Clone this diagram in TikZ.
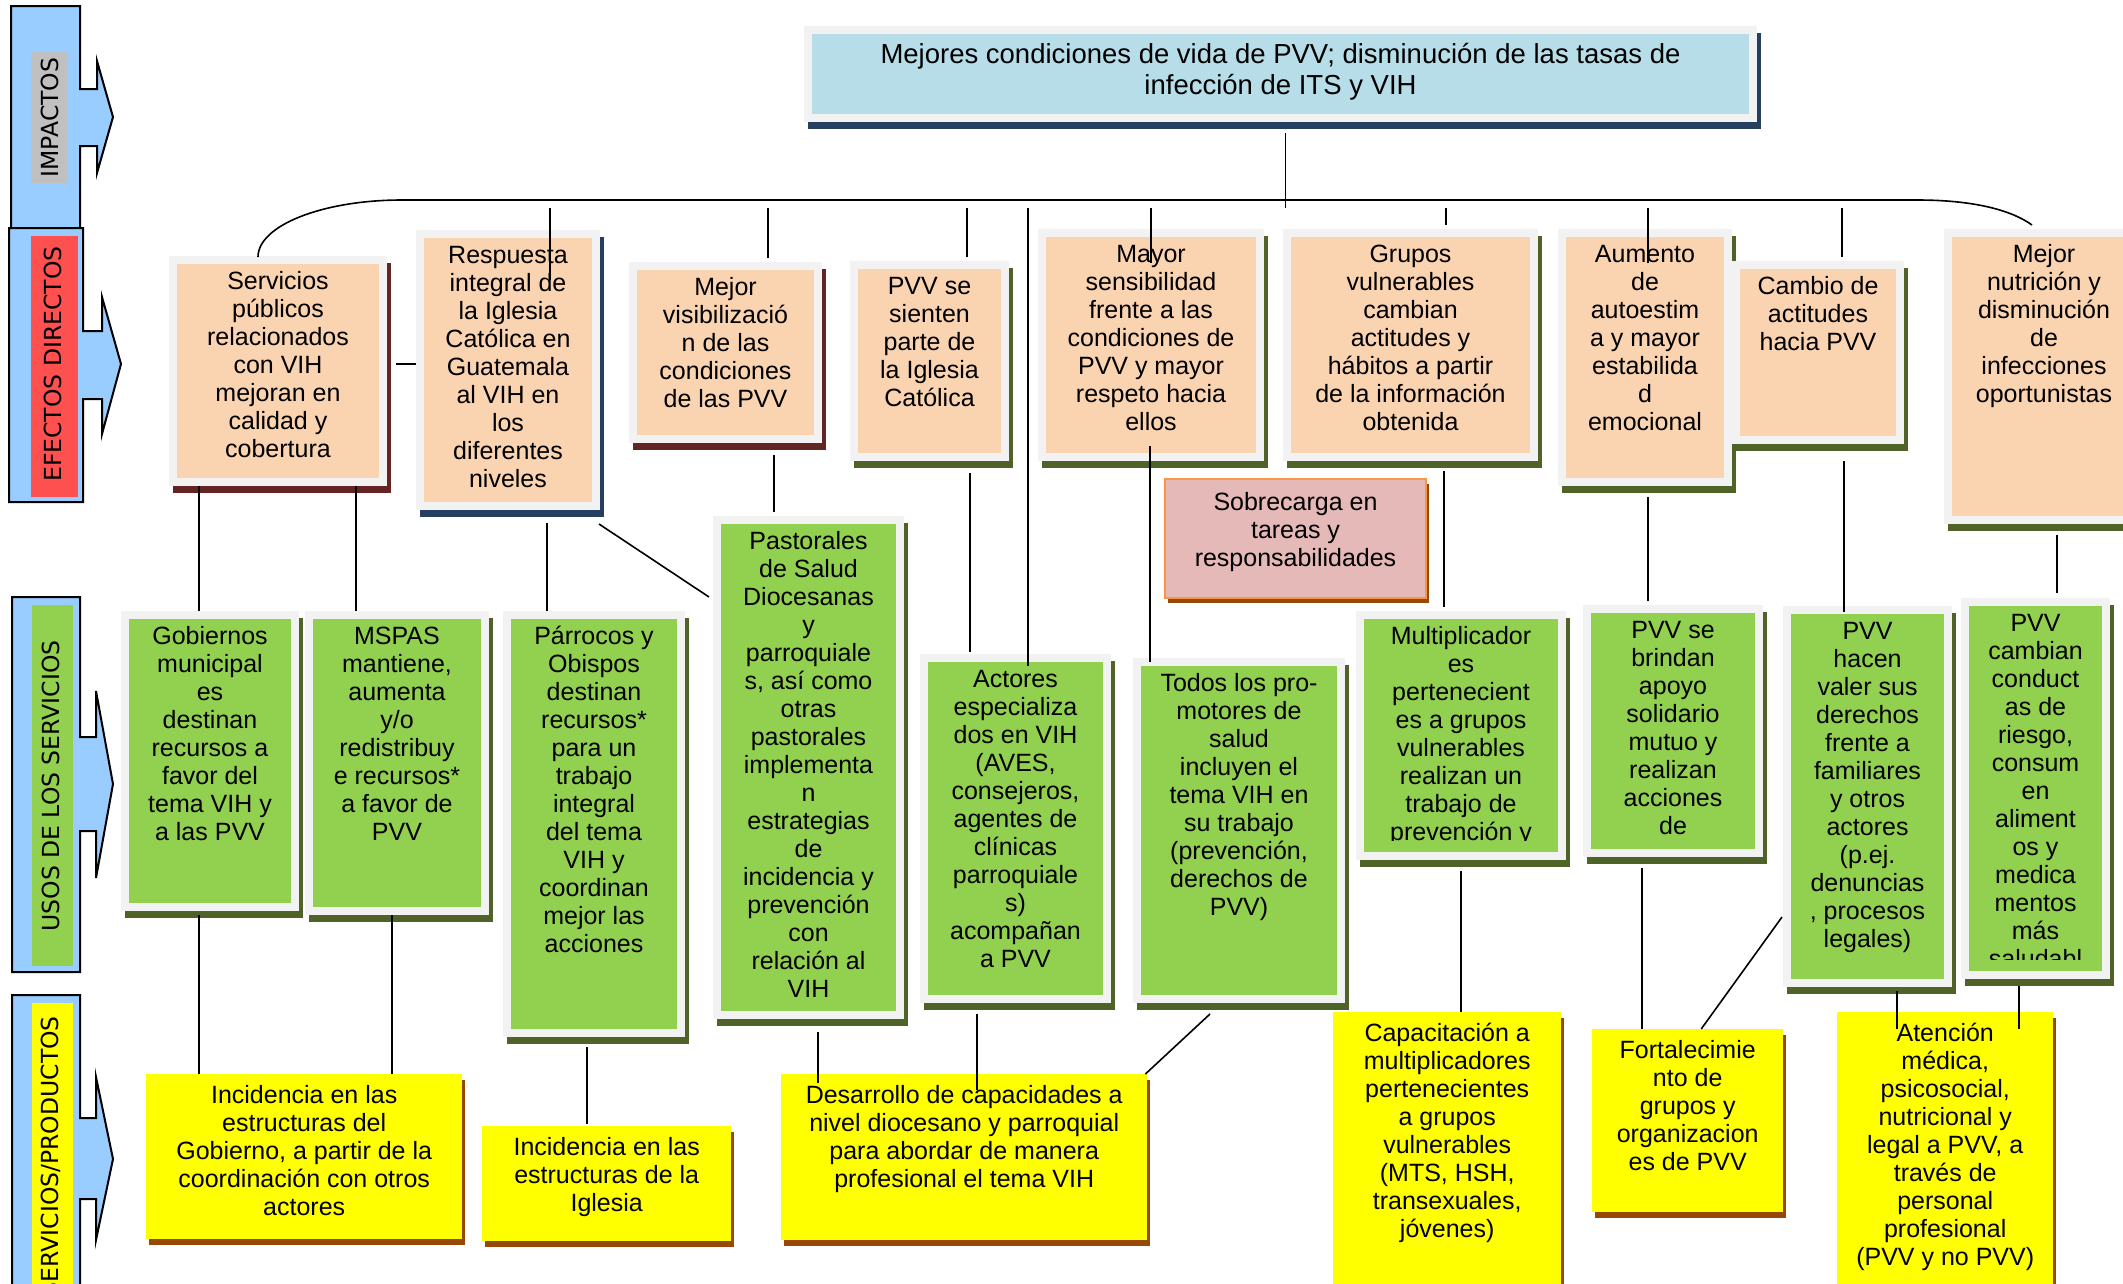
\documentclass[tikz,border=0pt]{standalone}
\usepackage{fontspec}
\setmainfont{Liberation Sans}
\newfontfamily\sidefont{DejaVu Sans}
\usetikzlibrary{calc}

\definecolor{sideblue}{HTML}{99CCFF}
\definecolor{labgrey}{HTML}{C0C0C0}
\definecolor{labred}{HTML}{FF5050}
\definecolor{labgreen}{HTML}{92D050}
\definecolor{lemon}{HTML}{FFFF00}
\definecolor{peach}{HTML}{FAD3B1}
\definecolor{leaf}{HTML}{92D050}
\definecolor{skyfill}{HTML}{B7DDE8}
\definecolor{framegrey}{HTML}{F2F2F2}
\definecolor{olive}{HTML}{4F6228}
\definecolor{wine}{HTML}{632523}
\definecolor{navy}{HTML}{243F60}
\definecolor{rust}{HTML}{984806}
\definecolor{rose}{HTML}{E5B9B7}
\definecolor{amber}{HTML}{F79646}

\tikzset{
  conn/.style={draw=black, line width=1.6pt},
  sidebar/.style={fill=sideblue, draw=black, line width=2pt},
  sidelabel/.style={rotate=90, inner sep=0pt, font=\sidefont\fontsize{23.5}{28}\selectfont},
  castshadow/.style={preaction={draw=#1, fill=#1, line width=8pt, transform canvas={xshift=4pt, yshift=-7pt}}},
  cardbox/.style={rectangle, draw=framegrey, line width=8pt, inner sep=0pt, anchor=north west, fill=#1},
  prodbox/.style={rectangle, draw=none, inner sep=0pt, anchor=north west, fill=lemon,
    preaction={fill=rust, transform canvas={xshift=3pt, yshift=-6pt}}},
  body/.style={anchor=north, align=center, inner sep=0pt, font=\fontsize{25}{28}\selectfont},
}

% framed card: name, fill, shadow colour, outer x1, y1, x2, y2
\newcommand\framecard[7]{%
  \node[cardbox=#2, castshadow=#3, minimum width={#6-#4-8}, minimum height={#7-#5-8}] (#1) at ({#4+4},{#5+4}) {};}
\newcommand\cardtext[2]{\node[body] (#1t) at ($(#1.north)+(0,13.4)$) {\strut #2};}
% plain yellow product box: name, x1, y1, x2, y2
\newcommand\prodcard[5]{%
  \node[prodbox, minimum width={#4-#2}, minimum height={#5-#3}] (#1) at (#2,#3) {};}
\newcommand\prodtext[2]{\node[body] (#1t) at ($(#1.north)+(0,9.4)$) {\strut #2};}

\begin{document}
\begin{tikzpicture}[x=1pt, y=-1pt]
\useasboundingbox (0,0) rectangle (2123,1283);
\clip (0,0) rectangle (2123,1283);
\fill[white] (0,0) rectangle (2123,1283);

% ---- level bars on the left ----
\draw[sidebar] (11,6) -- (80,6) -- (80,89) -- (97,89) -- (97,61) -- (113,117) -- (97,173) -- (97,146) -- (80,146) -- (80,228) -- (11,228) -- cycle;
\fill[labgrey] (31,52) rectangle (68,183);
\node[sidelabel] (impactos) at (49.5,117.5) {IMPACTOS};

\draw[sidebar] (9,228) -- (83,228) -- (83,331) -- (102,331) -- (102,297) -- (121,364) -- (102,434) -- (102,399) -- (83,399) -- (83,502) -- (9,502) -- cycle;
\fill[labred] (31,236) rectangle (78,497);
\node[sidelabel] (efectos) at (53,364) {EFECTOS DIRECTOS};

\draw[sidebar] (12,597) -- (80,597) -- (80,737) -- (96,737) -- (96,691) -- (113,784) -- (96,878) -- (96,831) -- (80,831) -- (80,972) -- (12,972) -- cycle;
\fill[labgreen] (32,605) rectangle (73,966);
\node[sidelabel] (usos) at (51,786) {USOS DE LOS SERVICIOS};

\draw[sidebar] (12,995) -- (80,995) -- (80,1118) -- (96,1118) -- (96,1077) -- (113,1159) -- (96,1240) -- (96,1199) -- (80,1199) -- (80,1300) -- (12,1300) -- cycle;
\fill[lemon] (32,1003) rectangle (73,1300);
\node[sidelabel, anchor=east] (servicios) at (51,1016) {SERVICIOS/PRODUCTOS};

% ---- impact ----
\framecard{top}{skyfill}{navy}{800}{22}{1753}{118}
\node[anchor=north, align=center, inner sep=0pt, font=\fontsize{27.5}{31}\selectfont] (topt)
  at ($(top.north)+(0,15.3)$) {\strut Mejores condiciones de vida de PVV; disminución de las tasas de\\infección de ITS y VIH};

% ---- direct effects ----
\framecard{serv}{peach}{wine}{165}{252}{383}{482}
\cardtext{serv}{Servicios\\públicos\\relacionados\\con VIH\\mejoran en\\calidad y\\cobertura}
\framecard{resp}{peach}{navy}{412}{226}{596}{506}
\cardtext{resp}{Respuesta\\integral de\\la Iglesia\\Católica en\\Guatemala\\al VIH en\\los\\diferentes\\niveles}
\framecard{visib}{peach}{wine}{625}{258}{818}{439}
\cardtext{visib}{Mejor\\visibilizació\\n de las\\condiciones\\de las PVV}
\framecard{sient}{peach}{olive}{846}{257}{1005}{457}
\cardtext{sient}{PVV se\\sienten\\parte de\\la Iglesia\\Católica}
\framecard{mayor}{peach}{olive}{1034}{225}{1260}{457}
\cardtext{mayor}{Mayor\\sensibilidad\\frente a las\\condiciones de\\PVV y mayor\\respeto hacia\\ellos}
\framecard{grupos}{peach}{olive}{1279}{225}{1534}{457}
\cardtext{grupos}{Grupos\\vulnerables\\cambian\\actitudes y\\hábitos a partir\\de la información\\obtenida}
\framecard{aum}{peach}{olive}{1554}{225}{1728}{482}
\cardtext{aum}{Aumento\\de\\autoestim\\a y mayor\\estabilida\\d\\emocional}
\framecard{camb}{peach}{olive}{1728}{257}{1900}{440}
\cardtext{camb}{Cambio de\\actitudes\\hacia PVV}
\framecard{nutr}{peach}{olive}{1940}{225}{2140}{520}
\cardtext{nutr}{Mejor\\nutrición y\\disminución\\de\\infecciones\\oportunistas}

\node[rectangle, anchor=north west, fill=rose, draw=amber, line width=2pt, inner sep=0pt,
  minimum width=261, minimum height=119,
  preaction={fill=rust, transform canvas={xshift=3pt, yshift=-5pt}}] (sobre) at (1164,478) {};
\node[body] (sobret) at ($(sobre.north)+(0,12.4)$) {\strut Sobrecarga en\\tareas y\\responsabilidades};

% ---- use of services ----
\framecard{gob}{leaf}{olive}{117}{607}{295}{907}
\cardtext{gob}{Gobiernos\\municipal\\es\\destinan\\recursos a\\favor del\\tema VIH y\\a las PVV}
\framecard{msp}{leaf}{olive}{301}{607}{485}{911}
\cardtext{msp}{MSPAS\\mantiene,\\aumenta\\y/o\\redistribuy\\e recursos*\\a favor de\\PVV}
\framecard{parr}{leaf}{olive}{499}{607}{681}{1033}
\cardtext{parr}{Párrocos y\\Obispos\\destinan\\recursos*\\para un\\trabajo\\integral\\del tema\\VIH y\\coordinan\\mejor las\\acciones}
\framecard{past}{leaf}{olive}{709}{512}{900}{1015}
\cardtext{past}{Pastorales\\de Salud\\Diocesanas\\y\\parroquiale\\s, así como\\otras\\pastorales\\implementa\\n\\estrategias\\de\\incidencia y\\prevención\\con\\relación al\\VIH}
\framecard{act}{leaf}{olive}{916}{650}{1107}{999}
\cardtext{act}{Actores\\especializa\\dos en VIH\\(AVES,\\consejeros,\\agentes de\\clínicas\\parroquiale\\s)\\acompañan\\a PVV}
\framecard{todos}{leaf}{olive}{1129}{654}{1341}{999}
\cardtext{todos}{Todos los pro-\\motores de\\salud\\incluyen el\\tema VIH en\\su trabajo\\(prevención,\\derechos de\\PVV)}
\framecard{mult}{leaf}{olive}{1352}{607}{1562}{856}
\begin{scope}
  \clip ($(mult.north west)+(4,4)$) rectangle ($(mult.south east)+(-4,-20)$);
  \cardtext{mult}{Multiplicador\\es\\pertenecient\\es a grupos\\vulnerables\\realizan un\\trabajo de\\prevención y}
\end{scope}
\framecard{brind}{leaf}{olive}{1579}{601}{1759}{853}
\cardtext{brind}{PVV se\\brindan\\apoyo\\solidario\\mutuo y\\realizan\\acciones\\de}
\framecard{hacen}{leaf}{olive}{1779}{602}{1948}{983}
\cardtext{hacen}{PVV\\hacen\\valer sus\\derechos\\frente a\\familiares\\y otros\\actores\\(p.ej.\\denuncias\\, procesos\\legales)}
\framecard{cambU}{leaf}{olive}{1957}{594}{2106}{975}
\begin{scope}
  \clip ($(cambU.north west)+(4,4)$) rectangle ($(cambU.south east)+(-4,-20)$);
  \cardtext{cambU}{PVV\\cambian\\conduct\\as de\\riesgo,\\consum\\en\\aliment\\os y\\medica\\mentos\\más\\saludabl}
\end{scope}

% ---- services / products ----
\prodcard{incg}{146}{1074}{462}{1239}
\prodtext{incg}{Incidencia en las\\estructuras del\\Gobierno, a partir de la\\coordinación con otros\\actores}
\prodcard{inci}{482}{1126}{731}{1241}
\prodtext{inci}{Incidencia en las\\estructuras de la\\Iglesia}
\prodcard{des}{781}{1074}{1147}{1240}
\prodtext{des}{Desarrollo de capacidades a\\nivel diocesano y parroquial\\para abordar de manera\\profesional el tema VIH}
\prodcard{cap}{1333}{1012}{1561}{1300}
\prodtext{cap}{Capacitación a\\multiplicadores\\pertenecientes\\a grupos\\vulnerables\\(MTS, HSH,\\transexuales,\\jóvenes)}
\prodcard{fort}{1592}{1029}{1783}{1212}
\prodtext{fort}{Fortalecimie\\nto de\\grupos y\\organizacion\\es de PVV}
\prodcard{aten}{1837}{1012}{2053}{1300}
\prodtext{aten}{Atención\\médica,\\psicosocial,\\nutricional y\\legal a PVV, a\\través de\\personal\\profesional\\(PVV y no PVV)}

% ---- connectors ----
\coordinate (bar) at ($(top.south)+(5,86)$);
\draw[conn] ($(top.south)+(5,11)$) -- (bar);
\draw[conn] ($(serv.north)+(-20,1)$) .. controls ($(serv.north)+(-20,-30.5)$) and ($(serv.north)+(44.5,-56)$) .. ($(serv.north)+(124,-56)$)
  -- ($(nutr.north)+(-127,-29)$) .. controls ($(nutr.north)+(-65,-29)$) and ($(nutr.north)+(-30,-17)$) .. ($(nutr.north)+(-12,-4)$);

\draw[conn] ([xshift=42pt]resp.north |- bar) -- ($(resp.north)+(42,50)$);
\draw[conn] ([xshift=42.5pt]visib.north |- bar) -- ($(visib.north)+(42.5,-4)$);
\draw[conn] ([xshift=37.5pt]sient.north |- bar) -- ($(sient.north)+(37.5,-4)$);
\draw[conn] ([xshift=12.5pt]act.north |- bar) -- ($(act.north)+(12.5,12)$);
\draw[conn] (mayor.north |- bar) -- ($(mayor.north)+(0,34)$);
\draw[conn] ([xshift=35.5pt]grupos.north |- bar) -- ($(grupos.north)+(35.5,-4)$);
\draw[conn] ([xshift=3pt]aum.north |- bar) -- ($(aum.north)+(3,34)$);
\draw[conn] ([xshift=24pt]camb.north |- bar) -- ($(camb.north)+(24,-4)$);

\draw[conn] ($(gob.north)+(-11,0)$) -- ($(gob.north |- serv.south)+(-11,0)$);
\draw[conn] ($(msp.north)+(-41,0)$) -- ($(msp.north |- serv.south)+(-41,0)$);
\draw[conn] ($(serv.east)+(9,-7)$) -- ($(serv.east -| resp.west)+(0,-7)$);
\draw[conn] ($(parr.north)+(-47,0)$) -- ($(parr.north |- resp.south)+(-47,13)$);
\draw[conn] ($(resp.south east)+(-1,14)$) -- ($(past.north west)+(-4,81)$);
\draw[conn] ($(past.north)+(-34.5,-4)$) -- ($(past.north |- visib.south)+(-34.5,12)$);
\draw[conn] ($(act.north)+(-45.5,-2)$) -- ($(act.north |- sient.south)+(-45.5,12)$);
\draw[conn] ($(todos.north)+(-89,4)$) -- ($(todos.north |- mayor.south)+(-89,-15)$);
\draw[conn] ($(mult.north)+(-17,-4)$) -- ($(mult.north |- grupos.south)+(-17,10)$);
\draw[conn] ($(brind.north)+(-25,-4)$) -- ($(brind.north |- aum.south)+(-25,11)$);
\draw[conn] ($(hacen.north)+(-23.5,6)$) -- ($(hacen.north |- camb.south)+(-23.5,17)$);
\draw[conn] ($(cambU.north)+(21.5,-5)$) -- ($(cambU.north |- nutr.south)+(21.5,11)$);

\draw[conn] ($(gob.south)+(-11,4)$) -- ($(gob.south |- incg.north)+(-11,0)$);
\draw[conn] ($(msp.south)+(-5,0)$) -- ($(msp.south |- incg.north)+(-5,0)$);
\draw[conn] ($(parr.south)+(-7,10)$) -- ($(parr.south |- inci.north)+(-7,-2)$);
\draw[conn] ($(past.south)+(9.5,13)$) -- ($(past.south |- des.north)+(9.5,9)$);
\draw[conn] ($(act.south)+(-38.5,11)$) -- ($(act.south |- des.north)+(-38.5,16)$);
\draw[conn] ($(todos.south)+(-29,11)$) -- ($(des.north east)+(-2,0)$);
\draw[conn] ($(mult.south)+(0,11)$) -- (mult.south |- cap.north);
\draw[conn] ($(brind.south)+(-31,11)$) -- ($(brind.south |- fort.north)+(-31,0)$);
\draw[conn] ($(hacen.south west)+(-1,-70)$) -- ($(fort.north)+(13.5,0)$);
\draw[conn] ($(hacen.south)+(29.5,4)$) -- ($(hacen.south |- aten.north)+(29.5,17)$);
\draw[conn] ($(cambU.south)+(-16.5,7)$) -- ($(cambU.south |- aten.north)+(-16.5,17)$);
\end{tikzpicture}
\end{document}
